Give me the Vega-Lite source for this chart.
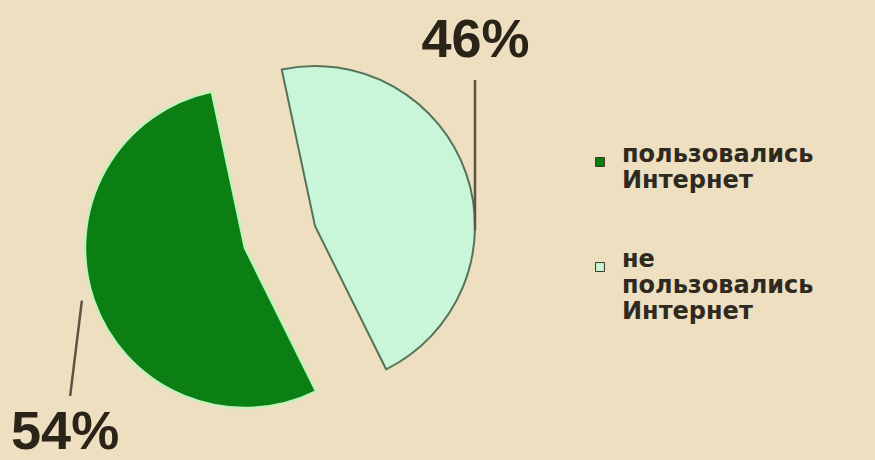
{
  "$schema": "https://vega.github.io/schema/vega-lite/v6.json",
  "width": 875,
  "height": 460,
  "autosize": {"type": "none"},
  "padding": 0,
  "background": "#eedfc1",
  "config": {"view": {"stroke": null}},
  "data": {"values": [
    {"label": "пользовались Интернет", "value": 54},
    {"label": "не пользовались Интернет", "value": 46}
  ]},
  "transform": [
    {"stack": "value", "groupby": [], "as": ["v0", "v1"], "sort": [{"field": "label", "order": "ascending"}]},
    {"calculate": "datum.value + '%'", "as": "pct"}
  ],
  "layer": [
    {
      "transform": [{"filter": "datum.label == 'пользовались Интернет'"}],
      "mark": {"type": "arc", "radius": 160, "xOffset": -192.5, "yOffset": 18, "stroke": "#c4f2bc", "strokeWidth": 2.5},
      "encoding": {
        "theta": {"field": "v0", "type": "quantitative", "stack": null, "scale": {"domain": [0, 100], "range": [-0.2094, 6.0737]}},
        "theta2": {"field": "v1"},
        "color": {
          "field": "label", "type": "nominal",
          "scale": {"domain": ["пользовались Интернет", "не пользовались Интернет"], "range": ["#0b7f14", "#c9f6d8"]},
          "legend": {
            "title": null, "orient": "none", "legendX": 588, "legendY": 150,
            "symbolType": "square", "symbolSize": 80, "symbolStrokeColor": "#3a3a2a", "symbolStrokeWidth": 1,
            "labelExpr": "split(datum.label, ' ')",
            "labelFont": "DejaVu Sans", "labelFontWeight": "bold", "labelFontSize": 24, "labelColor": "#2e2a20",
            "labelBaseline": "alphabetic", "labelLimit": 300, "labelOffset": 10,
            "rowPadding": 55,
            "encode": {"labels": {"update": {"lineHeight": {"value": 26}}}}
          }
        }
      }
    },
    {
      "transform": [{"filter": "datum.label == 'не пользовались Интернет'"}],
      "mark": {"type": "arc", "radius": 160, "xOffset": -122.5, "yOffset": -4, "stroke": "#56735a", "strokeWidth": 2},
      "encoding": {
        "theta": {"field": "v0", "type": "quantitative", "stack": null},
        "theta2": {"field": "v1"},
        "color": {"field": "label", "type": "nominal"}
      }
    },
    {
      "transform": [{"filter": "datum.label == 'не пользовались Интернет'"}],
      "mark": {"type": "arc", "theta": 0, "theta2": 0, "radius": 160, "radius2": 10, "xOffset": 37.5, "yOffset": 10, "stroke": "#5e5444", "strokeWidth": 2.5, "fill": null},
      "encoding": {}
    },
    {
      "transform": [{"filter": "datum.label == 'пользовались Интернет'"}],
      "mark": {"type": "arc", "theta": 3.264, "theta2": 3.264, "radius": 146, "radius2": 50, "xOffset": -349.5, "yOffset": 21, "stroke": "#5e5444", "strokeWidth": 2.5, "fill": null},
      "encoding": {}
    },
    {
      "transform": [{"filter": "datum.label == 'не пользовались Интернет'"}],
      "mark": {"type": "text", "theta": 0.714, "radius": 245, "xOffset": -122.5, "yOffset": -4, "font": "Liberation Sans", "fontWeight": "bold", "fontSize": 54, "color": "#2a2418", "align": "center", "baseline": "middle"},
      "encoding": {"text": {"field": "pct"}}
    },
    {
      "transform": [{"filter": "datum.label == 'пользовались Интернет'"}],
      "mark": {"type": "text", "theta": 3.913, "radius": 258, "xOffset": -192.5, "yOffset": 18, "font": "Liberation Sans", "fontWeight": "bold", "fontSize": 54, "color": "#2a2418", "align": "center", "baseline": "middle"},
      "encoding": {"text": {"field": "pct"}}
    }
  ]
}
